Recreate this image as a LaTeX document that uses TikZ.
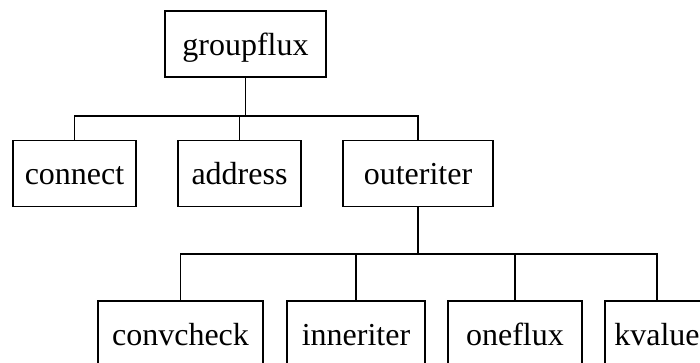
\documentclass[tikz,border=0pt]{standalone}
\usepackage{fontspec}
\setmainfont{Liberation Serif}
\begin{document}
\begin{tikzpicture}[x=1pt,y=-1pt,
  box/.style={draw,line width=1.3pt,inner sep=0pt,minimum height=66pt,
    text height=30pt,text depth=8pt,
    font=\fontsize{32}{38}\selectfont},
  link/.style={line width=1.3pt}]
\useasboundingbox (0,0) rectangle (700,362);
\clip (0,0) rectangle (700,362);
\node[box,minimum width=161pt] (groupflux) at (245.5,44) {groupflux};
\node[box,minimum width=123pt] (connect) at (74.5,173.5) {connect};
\node[box,minimum width=123pt] (address) at (239.5,173.5) {address};
\node[box,minimum width=150pt] (outeriter) at (418,173.5) {outeriter};
\node[box,minimum width=165pt] (convcheck) at (180.5,334) {convcheck};
\node[box,minimum width=138pt] (inneriter) at (356,334) {inneriter};
\node[box,minimum width=134pt] (oneflux) at (515,334) {oneflux};
\node[box,minimum width=104pt] (kvalue) at (657,334) {kvalue};
\coordinate (bus1) at (0,116);
\coordinate (bus2) at (0,254);
\foreach \c in {connect,address,outeriter}
  \draw[link] (groupflux.south) -- (groupflux.south |- bus1) -| (\c.north);
\foreach \c in {convcheck,inneriter,oneflux,kvalue}
  \draw[link] (outeriter.south) -- (outeriter.south |- bus2) -| (\c.north);
\end{tikzpicture}
\end{document}
